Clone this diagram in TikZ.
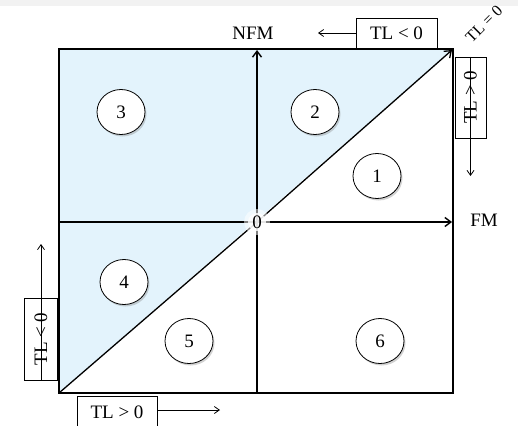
\documentclass[tikz,border=0pt]{standalone}
\usepackage{fontspec}
\setmainfont{Liberation Serif}
\usetikzlibrary{shadows,arrows.meta,shapes.geometric}
\definecolor{lightblue}{HTML}{E3F3FC}
\begin{document}
\begin{tikzpicture}[x=1pt,y=-1pt,
  region/.style={ellipse,draw,thick,fill=white,minimum width=48pt,minimum height=45pt,inner sep=0pt,
    font=\fontsize{19}{21}\selectfont,drop shadow={shadow xshift=1.5pt,shadow yshift=-2pt,opacity=0.35}},
  lbl/.style={font=\fontsize{19}{21}\selectfont},
  tlbox/.style={draw,fill=white,font=\fontsize{19}{21}\selectfont,inner sep=0pt,minimum width=80pt,minimum height=30pt},
  axis/.style={line width=1.4pt,-{Straight Barb[length=6pt,width=9pt]}},
  small/.style={line width=0.8pt,-{Straight Barb[length=5pt,width=7pt]}},
  ]
\useasboundingbox (0,0) rectangle (518,425);
\fill[white] (0,0) rectangle (518,425);
\fill[black!5] (0,0) rectangle (518,6);
% shaded triangle
\fill[lightblue] (59,393) -- (59,49) -- (453,49) -- cycle;
% outer square
\draw[line width=2.6pt] (59,49) rectangle (453,393);
\coordinate (o) at (257,222);
\coordinate (bl) at (59,393);
\coordinate (tr) at (452,50);
\coordinate (l) at (59,222);
\coordinate (r) at (452,222);
\coordinate (b) at (257,393);
\coordinate (t) at (257,50);
\draw[line width=1.4pt] (l) -- (o);
\draw[axis] (o) -- (r);
\draw[line width=1.4pt] (b) -- (o);
\draw[axis] (o) -- (t);
\draw[line width=1.3pt] (bl) -- (o);
\draw[axis,line width=1.3pt] (o) -- (tr);
% centre glow
\fill[white,opacity=0.5] (257,222) circle (13pt);
\fill[white,opacity=0.8] (257,222) circle (9pt);
\node[lbl] (zero) at (o) {0};
% regions
\node[region] (r3) at (121,112) {3};
\node[region] (r2) at (315,112) {2};
\node[region] (r1) at (377,176) {1};
\node[region] (r4) at (124,282) {4};
\node[region] (r5) at (189,341) {5};
\node[region] (r6) at (380,341) {6};
% axis labels
\node[lbl] (nfm) at (253,33) {NFM};
\node[lbl] (fm) at (484,220) {FM};
\node[lbl,rotate=45,font=\fontsize{16}{18}\selectfont,inner sep=1pt] (tl0) at (484,24) {TL = 0};
% boxes
\node[tlbox,minimum width=81pt] (btop) at (396.5,33) {TL < 0};
\coordinate (atop) at (318,33);
\draw[small] (btop.west) -- (atop);
\node[tlbox,rotate=90,minimum width=81pt,minimum height=31pt] (bright) at (470.5,97.5) {TL > 0};
\coordinate (aright) at (470.5,176);
\draw[small] (bright.east) -- (aright);
\node[tlbox,rotate=90,minimum width=82pt,minimum height=33pt] (bleft) at (41,339) {TL < 0};
\coordinate (aleft) at (41,244);
\draw[small] (bleft.west) -- (aleft);
\node[tlbox,minimum height=32pt] (bbot) at (117,412) {TL > 0};
\coordinate (abot) at (220,410);
\draw[small] (157,410) -- (abot);
\end{tikzpicture}
\end{document}
